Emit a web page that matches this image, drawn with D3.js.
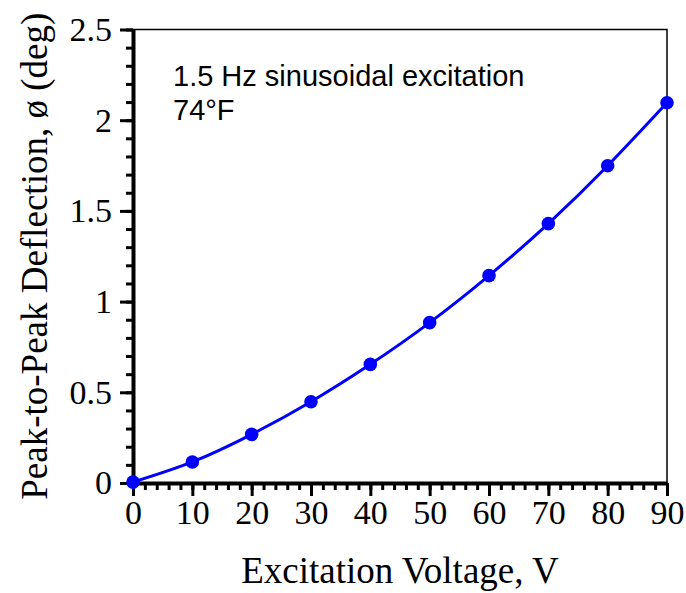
<!DOCTYPE html>
<html>
<head>
<meta charset="utf-8">
<script src="https://cdn.jsdelivr.net/npm/d3@7"></script>
<style>
  body { margin: 0; background: #fff; }
  svg { display: block; }
</style>
</head>
<body>
<div id="chart"></div>
<script>
// Peak-to-peak deflection vs excitation voltage

const voltage = [0, 10, 20, 30, 40, 50, 60, 70, 80, 90];
const deflection = [0.005, 0.116, 0.268, 0.448, 0.654, 0.884, 1.143, 1.430, 1.749, 2.096];
const xTicks = [0, 10, 20, 30, 40, 50, 60, 70, 80, 90];
const yTicks = [0, 0.5, 1, 1.5, 2, 2.5];
const notes = ["1.5 Hz sinusoidal excitation", "74°F"];

const data = voltage.map((v, i) => ({ v, d: deflection[i] }));

const W = 686, H = 593;
const plotL = 133, plotR = 667, plotT = 29.5, plotB = 483;

const svg = d3.select("#chart").append("svg")
  .attr("width", W)
  .attr("height", H);

const x = d3.scaleLinear().domain([0, 90]).range([plotL, plotR]);
const y = d3.scaleLinear().domain([0, 2.5]).range([plotB, plotT]);

const serif = "'Liberation Serif', 'Times New Roman', serif";

// cadre fin (haut + droite)
svg.append("path")
  .attr("d", `M${plotL},${plotT}H${plotR}V${plotB}`)
  .attr("fill", "none")
  .attr("stroke", "#000")
  .attr("stroke-width", 1.5);

// ticks mineurs
svg.append("g")
  .attr("transform", `translate(0,${plotB})`)
  .call(d3.axisBottom(x).tickValues(d3.range(0, 91, 2)).tickSize(7).tickFormat(""))
  .call(g => g.select(".domain").remove())
  .call(g => g.selectAll("line").attr("stroke-width", 3));

svg.append("g")
  .attr("transform", `translate(${plotL},0)`)
  .call(d3.axisLeft(y).tickValues(d3.range(0, 26).map(i => i / 10)).tickSize(7).tickFormat(""))
  .call(g => g.select(".domain").remove())
  .call(g => g.selectAll("line").attr("stroke-width", 3));

// axe X
svg.append("g")
  .attr("transform", `translate(0,${plotB})`)
  .call(d3.axisBottom(x).tickValues(xTicks).tickSize(13).tickSizeOuter(0).tickPadding(4).tickFormat(d3.format("d")))
  .call(g => g.select(".domain").attr("stroke-width", 4))
  .call(g => g.selectAll("line").attr("stroke-width", 3))
  .call(g => g.selectAll("text")
    .style("font-family", serif)
    .style("font-size", "34px")
    .attr("fill", "#000"));

// axe Y
svg.append("g")
  .attr("transform", `translate(${plotL},0)`)
  .call(d3.axisLeft(y).tickValues(yTicks).tickSize(13).tickSizeOuter(0).tickPadding(8).tickFormat(d => d))
  .call(g => g.select(".domain").attr("stroke-width", 4))
  .call(g => g.selectAll("line").attr("stroke-width", 3))
  .call(g => g.selectAll("text")
    .style("font-family", serif)
    .style("font-size", "34px")
    .attr("fill", "#000"));

// courbe
const line = d3.line()
  .x(d => x(d.v))
  .y(d => y(d.d))
  .curve(d3.curveNatural);

svg.append("path")
  .datum(data)
  .attr("d", line)
  .attr("fill", "none")
  .attr("stroke", "#0000ff")
  .attr("stroke-width", 3);

svg.selectAll(".pt")
  .data(data)
  .enter().append("circle")
  .attr("class", "pt")
  .attr("cx", d => x(d.v))
  .attr("cy", d => y(d.d))
  .attr("r", 6.8)
  .attr("fill", "#0000ff");

// annotation
svg.selectAll(".note")
  .data(notes)
  .enter().append("text")
  .attr("class", "note")
  .attr("x", 173)
  .attr("y", (d, i) => 86 + i * 34)
  .style("font-family", "'Liberation Sans', Arial, sans-serif")
  .style("font-size", "29px")
  .attr("fill", "#000")
  .text(d => d);

// titres des axes
svg.append("text")
  .attr("x", (plotL + plotR) / 2)
  .attr("y", 583)
  .attr("text-anchor", "middle")
  .style("font-family", serif)
  .style("font-size", "37px")
  .text("Excitation Voltage, V");

svg.append("text")
  .attr("transform", `translate(47,${(plotT + plotB) / 2}) rotate(-90)`)
  .attr("text-anchor", "middle")
  .style("font-family", serif)
  .style("font-size", "37px")
  .text("Peak-to-Peak Deflection, ø (deg)");
</script>
</body>
</html>
